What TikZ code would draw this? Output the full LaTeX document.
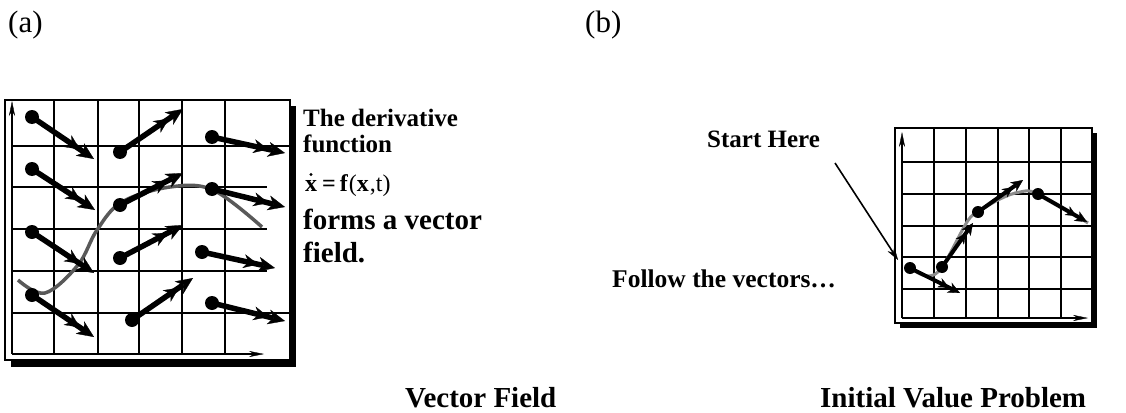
\documentclass[tikz,border=0pt]{standalone}
\usepackage{fontspec}
\setmainfont{Liberation Serif}
\usetikzlibrary{arrows.meta}
\begin{document}
\begin{tikzpicture}[x=1pt,y=-1pt,
  frame/.style={draw=black, line width=1.3pt, fill=white},
  shadowbox/.style={fill=black},
  gridline/.style={line width=1.3pt},
  axisarrow/.style={line width=1.3pt, -{Stealth[length=15pt,width=6pt,line width=0.3pt]}},
  bigvec/.style={line width=5.5pt, -{Stealth[length=15pt,width=14pt,inset=5pt,line width=0.3pt]Stealth[length=17pt,width=15pt,inset=5pt,line width=0.3pt]}},
  smallvec/.style={line width=4pt, -{Stealth[length=11pt,width=10pt,inset=3.5pt,line width=0.3pt]Stealth[length=12pt,width=11pt,inset=3.5pt,line width=0.3pt]}},
  pointer/.style={line width=1.6pt, -{Stealth[length=13pt,width=8pt,line width=0.3pt]}},
  lbl/.style={anchor=base west, inner sep=0pt, font=\bfseries\fontsize{25}{25}\selectfont},
  bigl/.style={anchor=base west, inner sep=0pt, font=\bfseries\fontsize{29}{29}\selectfont},
  tag/.style={anchor=base west, inner sep=0pt, font=\fontsize{31}{31}\selectfont}
]
\useasboundingbox (0,0) rectangle (1126,412);

% labels (a) (b)
\node[tag] (la) at (8,33) {(a)};
\node[tag] (lb) at (585,33) {(b)};

% ---------- panel (a) ----------
\fill[shadowbox] (11,106) rectangle (296,367);
\draw[frame] (5,100) rectangle (290,360);
\foreach \gx in {54,98,139,182,225} \draw[gridline] (\gx,100) -- (\gx,354);
\draw[gridline] (12,146) -- (290,146);
\draw[gridline] (12,187) -- (267,187);
\draw[gridline] (12,229) -- (267,229);
\draw[gridline] (12,271) -- (267,271);
\draw[gridline] (12,313) -- (290,313);
\coordinate (ao) at (12,354);
\coordinate (ay) at (12,101);
\coordinate (ax) at (264,354);
\draw[axisarrow] (ao) -- (ay);
\draw[axisarrow] (ao) -- (ax);

\draw[line width=3.5pt, color=black!65] plot[smooth, tension=0.6] coordinates
  {(18,280) (45,293) (78,265) (97,230) (122,202) (170,187) (213,190) (262,227)};

\foreach \i/\sx/\sy/\tx/\ty in {
  1/32/117/94/159, 2/120/152/183/109, 3/212/137/285/153,
  4/32/169/95/210, 5/120/205/183/173, 6/212/189/285/207,
  7/32/232/94/273, 8/120/258/183/225, 9/202/252/275/268,
  10/32/295/94/337, 11/132/320/193/278, 12/212/303/285/321} {
  \coordinate (s\i) at (\sx,\sy);
  \coordinate (e\i) at (\tx,\ty);
  \draw[bigvec] (s\i) -- (e\i);
  \fill (s\i) circle (7);
}

\node[lbl] (t1) at (303,126) {The derivative};
\node[lbl] (t2) at (303,152) {function};
\node[anchor=base west, inner sep=0pt, font=\fontsize{24}{24}\selectfont] (t3) at (305,191)
  {{\bfseries x}\hspace{5pt}{\bfseries =}\hspace{4pt}{\bfseries f}\hspace{1pt}({\bfseries x}\hspace{1pt},t)};
\fill ([xshift=6pt,yshift=16.5pt]t3.base west) circle (1.6);
\node[bigl] (t4) at (303,229) {forms a vector};
\node[bigl] (t5) at (303,262) {field.};

\node[bigl] (capa) at (405,407) {Vector Field};

% ---------- panel (b) ----------
\fill[shadowbox] (900,133) rectangle (1097,328);
\draw[frame] (895,128) rectangle (1092,323);
\foreach \gx in {934,966,998,1029,1061} \draw[gridline] (\gx,128) -- (\gx,318);
\foreach \gy in {162,194,226,257,289} \draw[gridline] (902,\gy) -- (1092,\gy);
\coordinate (bo) at (902,318);
\coordinate (by) at (902,132);
\coordinate (bx) at (1088,318);
\draw[axisarrow] (bo) -- (by);
\draw[axisarrow] (bo) -- (bx);

\draw[line width=3pt, color=black!45] plot[smooth, tension=0.6] coordinates
  {(910,268) (927,276) (942,267) (967,222) (978,212) (1000,199) (1020,192) (1038,194) (1088,223)};

\foreach \i/\sx/\sy/\tx/\ty in {
  1/910/268/960/293, 2/942/267/973/223, 3/978/212/1023/180, 4/1038/194/1087/222} {
  \coordinate (r\i) at (\sx,\sy);
  \coordinate (q\i) at (\tx,\ty);
  \draw[smallvec] (r\i) -- (q\i);
  \fill (r\i) circle (6);
}

\node[lbl] (sh) at (707,147) {Start Here};
\coordinate (sha) at (835,163);
\coordinate (shb) at (898,260);
\draw[pointer] (sha) -- (shb);
\node[lbl, font=\bfseries\fontsize{25.5}{25.5}\selectfont] (fv) at (612,287) {Follow the vectors…};

\node[bigl] (capb) at (820,407) {Initial Value Problem};
\end{tikzpicture}
\end{document}
